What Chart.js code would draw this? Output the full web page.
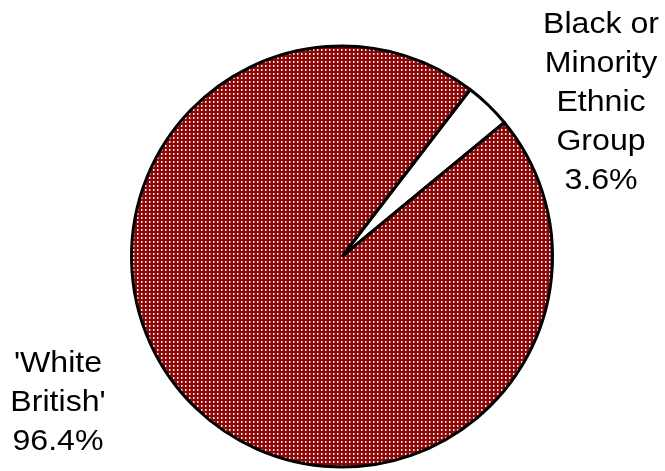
<!DOCTYPE html>
<html>
<head>
<meta charset="utf-8">
<script src="https://cdn.jsdelivr.net/npm/chart.js@4"></script>
<style>
html,body{margin:0;padding:0;background:#fff;}
#wrap{width:665px;height:471px;position:relative;}
</style>
</head>
<body>
<div id="wrap"><canvas id="c" width="665" height="471"></canvas></div>
<script>
const categories = ["Black or Minority Ethnic Group", "'White British'"];
const values = [3.6, 96.4];
const labelLines = [["Black or", "Minority", "Ethnic", "Group", "3.6%"], ["'White", "British'", "96.4%"]];

function makePattern() {
  const t = document.createElement('canvas');
  t.width = 4; t.height = 4;
  const g = t.getContext('2d');
  g.fillStyle = '#8a0808'; g.fillRect(0, 0, 4, 4);
  g.fillStyle = '#c86a6a'; g.fillRect(1, 1, 2, 2);
  g.fillStyle = '#f4d4d4'; g.fillRect(1, 1, 1, 2);
  g.fillStyle = '#ffffff'; g.fillRect(1, 1, 1, 1);
  return g.createPattern(t, 'repeat');
}

const labelPlugin = {
  id: 'sliceLabels',
  afterDraw(chart) {
    const ctx = chart.ctx;
    ctx.save();
    ctx.fillStyle = '#000';
    ctx.font = '30px "Liberation Sans", Arial, sans-serif';
    ctx.textAlign = 'center';
    ctx.textBaseline = 'alphabetic';
    const pos = [{x: 601, y: 33}, {x: 58, y: 372}];
    labelLines.forEach((lines, i) => {
      lines.forEach((ln, j) => {
        ctx.save();
        ctx.translate(pos[i].x, pos[i].y + j * 39);
        ctx.scale(1.07, 1);
        ctx.fillText(ln, 0, 0);
        ctx.restore();
      });
    });
    ctx.restore();
  }
};

new Chart(document.getElementById('c'), {
  type: 'pie',
  data: {
    labels: categories,
    datasets: [{
      data: values,
      backgroundColor: ['#ffffff', makePattern()],
      borderColor: '#000000',
      borderWidth: 3,
      borderAlign: 'center'
    }]
  },
  options: {
    responsive: false,
    animation: false,
    rotation: 37.5,
    layout: {padding: {left: 130, right: 111, top: 44, bottom: 2}},
    plugins: {legend: {display: false}, tooltip: {enabled: false}}
  },
  plugins: [labelPlugin]
});
</script>
</body>
</html>
